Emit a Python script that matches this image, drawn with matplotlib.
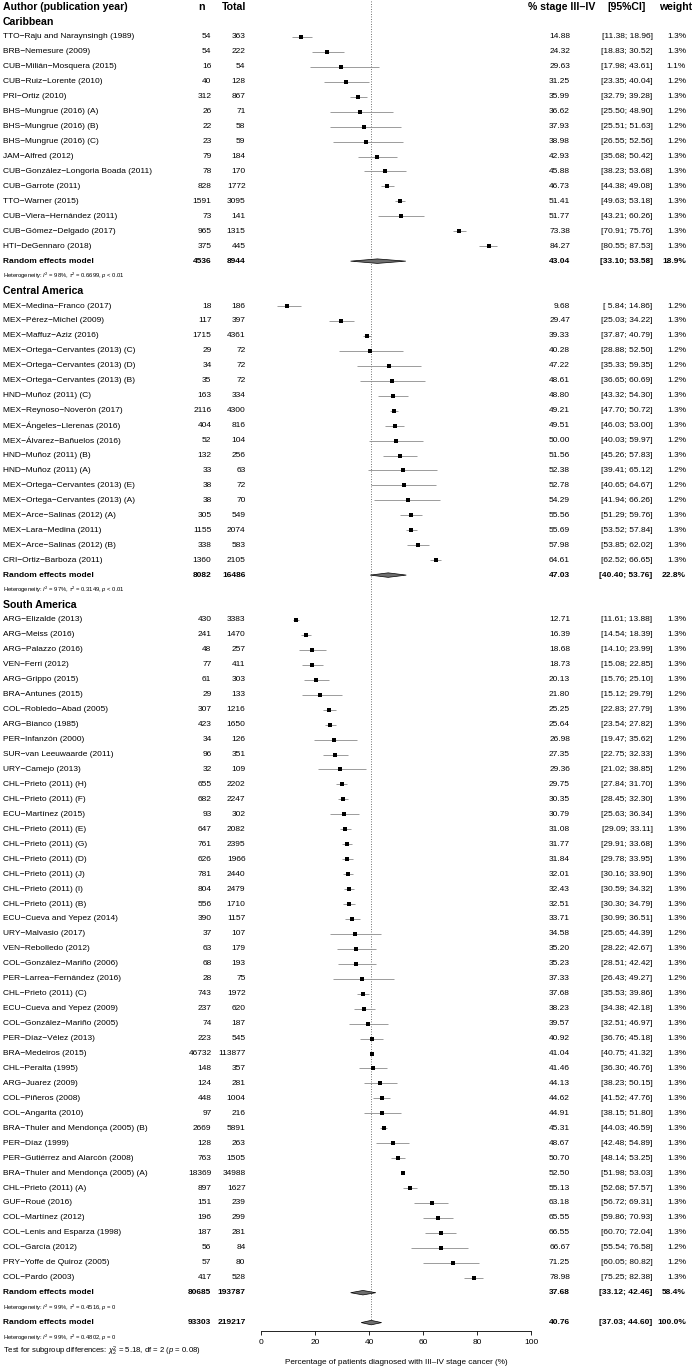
import matplotlib
matplotlib.use('Agg')
import matplotlib.pyplot as plt
from matplotlib.transforms import blended_transform_factory
from matplotlib.patches import Polygon

plt.rcParams['font.family'] = ['Liberation Sans', 'DejaVu Sans']
plt.rcParams['mathtext.fontset'] = 'custom'
plt.rcParams['mathtext.rm'] = 'Liberation Sans'
plt.rcParams['mathtext.it'] = 'Liberation Sans:italic'
plt.rcParams['mathtext.bf'] = 'Liberation Sans:bold'

# ---------------- data ----------------
carib_names = ["TTO\u2212Raju and Naraynsingh (1989)", "BRB\u2212Nemesure (2009)", "CUB\u2212Milián\u2212Mosquera (2015)",
               "CUB\u2212Ruiz\u2212Lorente (2010)", "PRI\u2212Ortiz (2010)", "BHS\u2212Mungrue (2016) (A)",
               "BHS\u2212Mungrue (2016) (B)", "BHS\u2212Mungrue (2016) (C)", "JAM\u2212Alfred (2012)",
               "CUB\u2212González\u2212Longoria Boada (2011)", "CUB\u2212Garrote (2011)", "TTO\u2212Warner (2015)",
               "CUB\u2212Viera\u2212Hernández (2011)", "CUB\u2212Gómez\u2212Delgado (2017)", "HTI\u2212DeGennaro (2018)"]
carib_n = [54, 54, 16, 40, 312, 26, 22, 23, 79, 78, 828, 1591, 73, 965, 375]
carib_total = [363, 222, 54, 128, 867, 71, 58, 59, 184, 170, 1772, 3095, 141, 1315, 445]
carib_est = [14.88, 24.32, 29.63, 31.25, 35.99, 36.62, 37.93, 38.98, 42.93, 45.88, 46.73, 51.41, 51.77, 73.38, 84.27]
carib_lo = [11.38, 18.83, 17.98, 23.35, 32.79, 25.50, 25.51, 26.55, 35.68, 38.23, 44.38, 49.63, 43.21, 70.91, 80.55]
carib_hi = [18.96, 30.52, 43.61, 40.04, 39.28, 48.90, 51.63, 52.56, 50.42, 53.68, 49.08, 53.18, 60.26, 75.76, 87.53]
carib_w = [1.3, 1.3, 1.1, 1.2, 1.3, 1.2, 1.2, 1.2, 1.3, 1.3, 1.3, 1.3, 1.3, 1.3, 1.3]
carib_re = (4536, 8944, 43.04, 33.10, 53.58, 18.9)
carib_het = ("98%", "0.6699", "< 0.01")

camer_names = ["MEX\u2212Medina\u2212Franco (2017)", "MEX\u2212Pérez\u2212Michel (2009)", "MEX\u2212Maffuz\u2212Aziz (2016)",
               "MEX\u2212Ortega\u2212Cervantes (2013) (C)", "MEX\u2212Ortega\u2212Cervantes (2013) (D)",
               "MEX\u2212Ortega\u2212Cervantes (2013) (B)", "HND\u2212Muñoz (2011) (C)", "MEX\u2212Reynoso\u2212Noverón (2017)",
               "MEX\u2212Ángeles\u2212Llerenas (2016)", "MEX\u2212Álvarez\u2212Bañuelos (2016)", "HND\u2212Muñoz (2011) (B)",
               "HND\u2212Muñoz (2011) (A)", "MEX\u2212Ortega\u2212Cervantes (2013) (E)", "MEX\u2212Ortega\u2212Cervantes (2013) (A)",
               "MEX\u2212Arce\u2212Salinas (2012) (A)", "MEX\u2212Lara\u2212Medina (2011)", "MEX\u2212Arce\u2212Salinas (2012) (B)",
               "CRI\u2212Ortiz\u2212Barboza (2011)"]
camer_n = [18, 117, 1715, 29, 34, 35, 163, 2116, 404, 52, 132, 33, 38, 38, 305, 1155, 338, 1360]
camer_total = [186, 397, 4361, 72, 72, 72, 334, 4300, 816, 104, 256, 63, 72, 70, 549, 2074, 583, 2105]
camer_est = [9.68, 29.47, 39.33, 40.28, 47.22, 48.61, 48.80, 49.21, 49.51, 50.00, 51.56, 52.38, 52.78, 54.29, 55.56, 55.69, 57.98, 64.61]
camer_lo = [5.84, 25.03, 37.87, 28.88, 35.33, 36.65, 43.32, 47.70, 46.03, 40.03, 45.26, 39.41, 40.65, 41.94, 51.29, 53.52, 53.85, 62.52]
camer_hi = [14.86, 34.22, 40.79, 52.50, 59.35, 60.69, 54.30, 50.72, 53.00, 59.97, 57.83, 65.12, 64.67, 66.26, 59.76, 57.84, 62.02, 66.65]
camer_w = [1.2, 1.3, 1.3, 1.2, 1.2, 1.2, 1.3, 1.3, 1.3, 1.2, 1.3, 1.2, 1.2, 1.2, 1.3, 1.3, 1.3, 1.3]
camer_re = (8082, 16486, 47.03, 40.40, 53.76, 22.8)
camer_het = ("97%", "0.3149", "< 0.01")

samer_names = ["ARG\u2212Elizalde (2013)", "ARG\u2212Meiss (2016)", "ARG\u2212Palazzo (2016)", "VEN\u2212Ferri (2012)",
               "ARG\u2212Grippo (2015)", "BRA\u2212Antunes (2015)", "COL\u2212Robledo\u2212Abad (2005)", "ARG\u2212Bianco (1985)",
               "PER\u2212Infanzón (2000)", "SUR\u2212van Leeuwaarde (2011)", "URY\u2212Camejo (2013)", "CHL\u2212Prieto (2011) (H)",
               "CHL\u2212Prieto (2011) (F)", "ECU\u2212Martínez (2015)", "CHL\u2212Prieto (2011) (E)", "CHL\u2212Prieto (2011) (G)",
               "CHL\u2212Prieto (2011) (D)", "CHL\u2212Prieto (2011) (J)", "CHL\u2212Prieto (2011) (I)", "CHL\u2212Prieto (2011) (B)",
               "ECU\u2212Cueva and Yepez (2014)", "URY\u2212Malvasio (2017)", "VEN\u2212Rebolledo (2012)",
               "COL\u2212González\u2212Mariño (2006)", "PER\u2212Larrea\u2212Fernández (2016)", "CHL\u2212Prieto (2011) (C)",
               "ECU\u2212Cueva and Yepez (2009)", "COL\u2212González\u2212Mariño (2005)", "PER\u2212Díaz\u2212Vélez (2013)",
               "BRA\u2212Medeiros (2015)", "CHL\u2212Peralta (1995)", "ARG\u2212Juarez (2009)", "COL\u2212Piñeros (2008)",
               "COL\u2212Angarita (2010)", "BRA\u2212Thuler and Mendonça (2005) (B)", "PER\u2212Díaz (1999)",
               "PER\u2212Gutiérrez and Alarcón (2008)", "BRA\u2212Thuler and Mendonça (2005) (A)", "CHL\u2212Prieto (2011) (A)",
               "GUF\u2212Roué (2016)", "COL\u2212Martínez (2012)", "COL\u2212Lenis and Esparza (1998)", "COL\u2212García (2012)",
               "PRY\u2212Yoffe de Quiroz (2005)", "COL\u2212Pardo (2003)"]
samer_n = [430, 241, 48, 77, 61, 29, 307, 423, 34, 96, 32, 655, 682, 93, 647, 761, 626, 781, 804, 556,
           390, 37, 63, 68, 28, 743, 237, 74, 223, 46732, 148, 124, 448, 97, 2669, 128, 763, 18369, 897,
           151, 196, 187, 56, 57, 417]
samer_total = [3383, 1470, 257, 411, 303, 133, 1216, 1650, 126, 351, 109, 2202, 2247, 302, 2082, 2395, 1966, 2440,
               2479, 1710, 1157, 107, 179, 193, 75, 1972, 620, 187, 545, 113877, 357, 281, 1004, 216, 5891, 263,
               1505, 34988, 1627, 239, 299, 281, 84, 80, 528]
samer_est = [12.71, 16.39, 18.68, 18.73, 20.13, 21.80, 25.25, 25.64, 26.98, 27.35, 29.36, 29.75, 30.35, 30.79,
             31.08, 31.77, 31.84, 32.01, 32.43, 32.51, 33.71, 34.58, 35.20, 35.23, 37.33, 37.68, 38.23, 39.57,
             40.92, 41.04, 41.46, 44.13, 44.62, 44.91, 45.31, 48.67, 50.70, 52.50, 55.13, 63.18, 65.55, 66.55,
             66.67, 71.25, 78.98]
samer_lo = [11.61, 14.54, 14.10, 15.08, 15.76, 15.12, 22.83, 23.54, 19.47, 22.75, 21.02, 27.84, 28.45, 25.63,
            29.09, 29.91, 29.78, 30.16, 30.59, 30.30, 30.99, 25.65, 28.22, 28.51, 26.43, 35.53, 34.38, 32.51,
            36.76, 40.75, 36.30, 38.23, 41.52, 38.15, 44.03, 42.48, 48.14, 51.98, 52.68, 56.72, 59.86, 60.70,
            55.54, 60.05, 75.25]
samer_hi = [13.88, 18.39, 23.99, 22.85, 25.10, 29.79, 27.79, 27.82, 35.62, 32.33, 38.85, 31.70, 32.30, 36.34,
            33.11, 33.68, 33.95, 33.90, 34.32, 34.79, 36.51, 44.39, 42.67, 42.42, 49.27, 39.86, 42.18, 46.97,
            45.18, 41.32, 46.76, 50.15, 47.76, 51.80, 46.59, 54.89, 53.25, 53.03, 57.57, 69.31, 70.93, 72.04,
            76.58, 80.82, 82.38]
samer_w = [1.3, 1.3, 1.3, 1.3, 1.3, 1.2, 1.3, 1.3, 1.2, 1.3, 1.2, 1.3, 1.3, 1.3, 1.3, 1.3, 1.3, 1.3, 1.3, 1.3,
           1.3, 1.2, 1.3, 1.3, 1.2, 1.3, 1.3, 1.3, 1.3, 1.3, 1.3, 1.3, 1.3, 1.3, 1.3, 1.3, 1.3, 1.3, 1.3,
           1.3, 1.3, 1.3, 1.2, 1.2, 1.3]
samer_re = (80685, 193787, 37.68, 33.12, 42.46, 58.4)
samer_het = ("99%", "0.4516", "= 0")

overall_re = (93303, 219217, 40.76, 37.03, 44.60, 100.0)
overall_het = ("99%", "0.4802", "= 0")
subgroup_test = ("5.18", "2", "0.08")

group_titles = ["Caribbean", "Central America", "South America"]
x_ticks = [0, 20, 40, 60, 80, 100]
x_label = "Percentage of patients diagnosed with III\u2013IV stage cancer (%)"

# ---------------- layout ----------------
W, H = 693, 1371
fig = plt.figure(figsize=(W / 100, H / 100), dpi=100)
x0px, x1px = 261.3, 531.0
row0_px, step = 7.0, 14.95
ax = fig.add_axes([x0px / W, 0, (x1px - x0px) / W, 1])
ax.set_xlim(0, 100)
ax.set_ylim((H - row0_px) / step, -row0_px / step)
ax.patch.set_visible(False)
for s in ['left', 'right', 'top']:
    ax.spines[s].set_visible(False)
ax.set_yticks([])

tr = blended_transform_factory(fig.transFigure, ax.transData)

def px(x):
    return x / W

FS = 6.0
FS_HEAD = 7.6
FS_HET = 4.25
FS_TEST = 5.6
X_AUTH, X_N, X_TOT, X_EST, X_CI, X_W = 3, 211.5, 245.5, 570, 652.5, 686

def txt(xp, row, s, ha='left', bold=False, size=FS):
    ax.text(px(xp), row, s, transform=tr, ha=ha, va='center', fontsize=size,
            fontweight='bold' if bold else 'normal', clip_on=False, color='black')

# header
txt(X_AUTH, 0, "Author (publication year)", bold=True, size=FS_HEAD)
txt(204.5, 0, "n", ha='right', bold=True, size=FS_HEAD)
txt(X_TOT + 0.5, 0, "Total", ha='right', bold=True, size=FS_HEAD)
txt(562, 0, "% stage III\u2013IV", ha='center', bold=True, size=FS_HEAD)
txt(627, 0, "[95%CI]", ha='center', bold=True, size=FS_HEAD)
txt(692, 0, "weight", ha='right', bold=True, size=FS_HEAD)

def ci_str(lo, hi):
    return "[%5.2f; %5.2f]" % (lo, hi)

def diamond(row, est, lo, hi):
    hh = 0.15
    poly = Polygon([[lo, row], [est, row - hh], [hi, row], [est, row + hh]], closed=True,
                   facecolor='#6e6e6e', edgecolor='black', lw=0.5, clip_on=False, zorder=3)
    ax.add_patch(poly)

def summary_row(row, vals):
    n, tot, est, lo, hi, w = vals
    txt(X_AUTH, row, "Random effects model", bold=True)
    txt(X_N, row, str(n), ha='right', bold=True)
    txt(X_TOT, row, str(tot), ha='right', bold=True)
    txt(X_EST, row, "%.2f" % est, ha='right', bold=True)
    txt(X_CI, row, ci_str(lo, hi), ha='right', bold=True)
    txt(X_W, row, "%.1f%%" % w, ha='right', bold=True)
    diamond(row, est, lo, hi)

def het_row(row, het):
    i2, tau2, p = het
    s = "Heterogeneity: $I^2$ = %s, $\\tau^2$ = %s, $p$ %s" % (i2, tau2, p)
    txt(X_AUTH, row, s, size=FS_HET)

groups = [
    (carib_names, carib_n, carib_total, carib_est, carib_lo, carib_hi, carib_w, carib_re, carib_het),
    (camer_names, camer_n, camer_total, camer_est, camer_lo, camer_hi, camer_w, camer_re, camer_het),
    (samer_names, samer_n, samer_total, samer_est, samer_lo, samer_hi, samer_w, samer_re, samer_het),
]

row = 1
for title, g in zip(group_titles, groups):
    names, n, tot, est, lo, hi, w, re, het = g
    txt(X_AUTH, row, title, bold=True, size=FS_HEAD)
    row += 1
    for i in range(len(names)):
        txt(X_AUTH, row, names[i])
        txt(X_N, row, str(n[i]), ha='right')
        txt(X_TOT, row, str(tot[i]), ha='right')
        txt(X_EST, row, "%.2f" % est[i], ha='right')
        txt(X_CI, row, ci_str(lo[i], hi[i]), ha='right')
        txt(X_W, row, "%.1f%%" % w[i], ha='right')
        ax.plot([lo[i], hi[i]], [row, row], color='#8c8c8c', lw=0.6, solid_capstyle='butt', zorder=2)
        ax.plot([est[i]], [row], marker='s', color='black', markersize=3.0 * (w[i] / 1.3) ** 0.5,
                markeredgewidth=0, zorder=3)
        row += 1
    summary_row(row, re)
    row += 1
    het_row(row, het)
    row += 1

overall_row = row
summary_row(overall_row, overall_re)
het_row(overall_row + 1, overall_het)
chi, df, pval = subgroup_test
txt(X_AUTH, overall_row + 1.95,
    "Test for subgroup differences: $\\chi^2_{%s}$ = %s, df = %s ($p$ = %s)" % (df, chi, df, pval),
    size=FS_TEST)

# reference line
ax.plot([overall_re[2], overall_re[2]], [-0.42, overall_row], ls=(0, (1, 2)), color='#444444', lw=0.6, zorder=1)

# x axis
axis_row = (1330.7 - row0_px) / step
ax.spines['bottom'].set_position(('data', axis_row))
ax.spines['bottom'].set_linewidth(0.6)
ax.set_xticks(x_ticks)
ax.set_xticklabels([str(t) for t in x_ticks])
ax.tick_params(axis='x', length=3.2, width=0.6, labelsize=6, pad=2.5, direction='out')
ax.text(50, (1362 - row0_px) / step, x_label, ha='center', va='center', fontsize=5.9, clip_on=False)

fig.savefig('out.png', dpi=100, facecolor='white')
